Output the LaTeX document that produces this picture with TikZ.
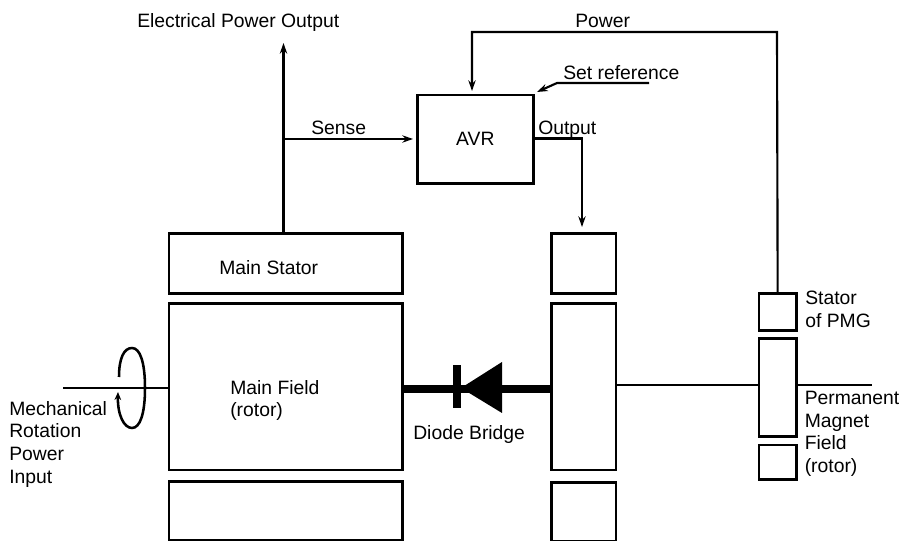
\documentclass[tikz,border=0pt]{standalone}
\usepackage{fontspec}
\setmainfont{Liberation Sans}
\usetikzlibrary{arrows.meta, positioning}
\tikzset{
    block/.style={draw, line width=1.9pt, inner sep=0pt, outer sep=0pt, anchor=north west, minimum width=#1},
    block/.default=175pt,
    label/.style={inner sep=0pt, align=left, anchor=north west, text depth=0pt},
    wire/.style={line width=1.6pt},
    sig/.style={wire, ->},
}
\begin{document}
\begin{tikzpicture}[x=.75pt, y=-.75pt, every node/.style={font={\fontsize{14.5}{17}\selectfont}}, >={Stealth[length=8pt,width=5.5pt]}]
    \useasboundingbox (0,0) rectangle (900,541);
    % main machine
    \node[block, minimum height=45pt] (stator) at (169,233.3) {};
    \node[block, minimum height=125pt] (field) at (169,303.3) {};
    \node[block, minimum height=44.2pt] (lower) at (169,481.7) {};
    % exciter
    \node[block=48.2pt, minimum height=45pt] (exstator) at (551.7,233.3) {};
    \node[block=48.2pt, minimum height=125pt] (exfield) at (551.7,303.3) {};
    \node[block=48.2pt, minimum height=44pt] (exlower) at (551.7,482.3) {};
    % PMG
    \node[block=28pt, minimum height=28pt] (pmgstator) at (759,293.3) {};
    \node[block=28pt, minimum height=73.8pt] (pmgfield) at (759,338.3) {};
    \node[block=28pt, minimum height=25.7pt] (pmglower) at (759,445) {};
    % regulator
    \node[block=87pt, minimum height=66.2pt] (avr) at (417.3,95) {};
    \node (avrlabel) at (avr.center) {AVR};
    % free ends
    \coordinate (powerout) at (283.5,43);
    \coordinate (shaftin) at (63,388);
    \coordinate (shaftout) at (872,385);
    \coordinate (setin) at (649,83);
    \coordinate (setkink) at (557,83);
    \coordinate (setend) at (537,92);
    \coordinate (senseup) at (283.5,139);
    % connectors
    \draw[sig] (stator.north -| powerout) -- (powerout);
    \draw[sig] (senseup) -- (413,139);
    \draw[sig] (pmgstator.north) -- (777,32) -| (472,91);
    \draw[sig] (avr.east |- 0,138.5) -| (582,227);
    \draw[wire, -{Stealth[length=8pt,width=5.5pt]}] (setin) -- (setkink) -- (setend);
    \draw[wire] (shaftin) -- (field.west |- shaftin);
    \draw[wire] (exfield.east |- shaftout) -- (pmgfield.west |- shaftout);
    \draw[wire] (pmgfield.east |- shaftout) -- (shaftout);
    % rotation
    \draw[line width=1.9pt, -{Stealth[length=6pt,width=5pt]}] (119,377) .. controls (119,358) and (124,348) .. (132,348) .. controls (140,348) and (145,362) .. (145,388) .. controls (145,414) and (140,428) .. (132,428) .. controls (124,428) and (117.5,415) .. (118,392);
    % diode
    \draw[line width=5.5pt] (field.east |- 0,389) -- (exfield.west |- 0,389);
    \fill (461,388) -- (502,362) -- (502,413) -- cycle;
    \fill (453,365) rectangle (461,408);
    % labels
    \node[label] (outlabel) at (137,13) {Electrical Power Output};
    \node[label] (powerlabel) at (575,14) {Power};
    \node[label] (setlabel) at (563,65) {Set reference};
    \node[label] (senselabel) at (311,121) {Sense};
    \node[label] (outputlabel) at (538,121) {Output};
    \node[label] (statorlabel) at (219,260) {Main Stator};
    \node[label] (fieldlabel) at (230,380) {Main Field\\(rotor)};
    \node[label] (mechlabel) at (9,401) {Mechanical\\Rotation\\Power\\Input};
    \node[label] (diodelabel) at (413,425) {Diode Bridge};
    \node[label] (pmglabel) at (805,291) {Stator\\of PMG};
    \node[label] (maglabel) at (804.5,391) {Permanent\\Magnet\\Field\\(rotor)};
\end{tikzpicture}
\end{document}
